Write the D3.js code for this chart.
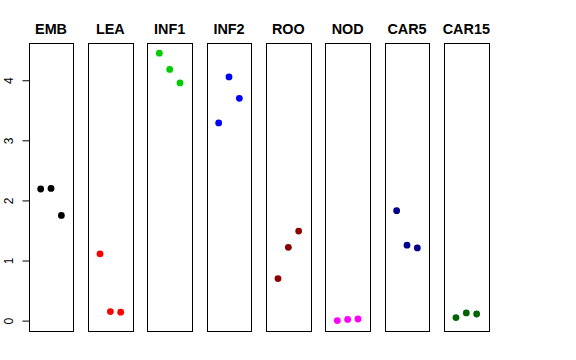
<!DOCTYPE html>
<html>
<head>
<meta charset="utf-8">
<script src="https://cdn.jsdelivr.net/npm/d3@7"></script>
<style>
  html, body { margin: 0; padding: 0; background: #fff; }
  svg { display: block; }
</style>
</head>
<body>
<svg id="chart" width="576" height="360"></svg>
<script>
// ---- data ----
const categories = ["EMB", "LEA", "INF1", "INF2", "ROO", "NOD", "CAR5", "CAR15"];
const valEMB   = [2.19, 2.20, 1.75];
const valLEA   = [1.11, 0.15, 0.14];
const valINF1  = [4.45, 4.18, 3.955];
const valINF2  = [3.29, 4.055, 3.70];
const valROO   = [0.70, 1.22, 1.49];
const valNOD   = [0.00, 0.02, 0.027];
const valCAR5  = [1.83, 1.255, 1.21];
const valCAR15 = [0.05, 0.127, 0.11];
const seriesValues = [valEMB, valLEA, valINF1, valINF2, valROO, valNOD, valCAR5, valCAR15];
const colors = ["#000000", "#FF0000", "#00CD00", "#0000FF", "#8B0000", "#FF00FF", "#00008B", "#006400"];
const yTicks = [0, 1, 2, 3, 4];
const xPositions = [1, 2, 3];

// ---- layout ----
const svg = d3.select("#chart");
const plotTop = 43, plotBottom = 331;

const xBand = d3.scaleBand()
  .domain(categories)
  .range([28.7, 488.65])
  .paddingInner(0.247)
  .paddingOuter(0);

const bw = xBand.bandwidth();
const xInner = d3.scaleLinear().domain([-0.16, 4.16]).range([0, bw]);
const y = d3.scaleLinear().domain([-0.173, 4.62]).range([plotBottom, plotTop]);

// y axis (R style: rotated labels)
const axisG = svg.append("g")
  .attr("transform", `translate(${Math.round(xBand(categories[0])) + 0.5},0)`);
const yAxis = d3.axisLeft(y).tickValues(yTicks).tickSize(7).tickPadding(0).tickFormat(d3.format("d"));
axisG.call(yAxis);
axisG.select(".domain").remove();
axisG.selectAll(".tick line").attr("stroke", "#000");
axisG.selectAll(".tick text")
  .attr("x", null)
  .attr("dy", "0")
  .attr("text-anchor", "middle")
  .attr("transform", "translate(-17,0) rotate(-90)")
  .style("font-family", "'Liberation Sans', Arial, Helvetica, sans-serif")
  .style("font-size", "12px")
  .attr("fill", "#000");

// panels
categories.forEach((cat, i) => {
  const x0 = xBand(cat);
  const g = svg.append("g").attr("transform", `translate(${x0},0)`);
  const vals = seriesValues[i];
  g.selectAll("circle")
    .data(vals)
    .enter().append("circle")
    .attr("cx", (d, j) => xInner(xPositions[j]))
    .attr("cy", d => y(d))
    .attr("r", 3.4)
    .attr("fill", colors[i]);

  const left = Math.round(x0) + 0.5 - x0;
  const right = Math.round(x0 + bw) + 0.5 - x0;
  g.append("rect")
    .attr("x", left)
    .attr("y", plotTop + 0.5)
    .attr("width", right - left)
    .attr("height", plotBottom - plotTop)
    .attr("fill", "none")
    .attr("stroke", "#000")
    .attr("stroke-width", 1);

  svg.append("text")
    .attr("x", x0 + bw / 2)
    .attr("y", 34.3)
    .attr("text-anchor", "middle")
    .style("font-family", "'Liberation Sans', Arial, Helvetica, sans-serif")
    .style("font-weight", "bold")
    .style("font-size", "14.4px")
    .attr("fill", "#000")
    .text(cat);
});
</script>
</body>
</html>
